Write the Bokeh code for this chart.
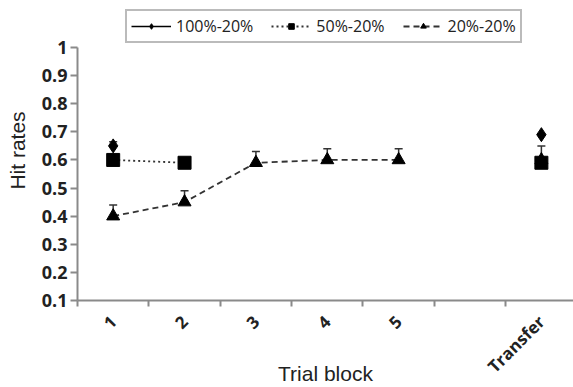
import math
from bokeh.plotting import figure
from bokeh.models import (Range1d, FixedTicker, Legend, LegendItem, Whisker,
                          ColumnDataSource, TeeHead)
from bokeh.embed import file_html
from bokeh.resources import INLINE

nan = float("nan")

blocks = ["1", "2", "3", "4", "5", "", "Transfer"]
hit_100_20 = [0.65, nan, nan, nan, nan, nan, 0.69]
err_100_20 = [0.015, nan, nan, nan, nan, nan, nan]
hit_50_20 = [0.60, 0.59, nan, nan, nan, nan, 0.59]
hit_20_20 = [0.40, 0.45, 0.59, 0.60, 0.60, nan, 0.60]
err_20_20 = [0.04, 0.04, 0.04, 0.04, 0.04, nan, 0.05]
y_ticks = [0.1, 0.2, 0.3, 0.4, 0.5, 0.6, 0.7, 0.8, 0.9, 1.0]

xpos = [i + 0.5 for i in range(len(blocks))]
bounds = list(range(len(blocks) + 1))

TXT = "#222222"
AX = "#8a8a8a"

# frame spans y = 0..300 px; 0.1 at 300 px, 1.0 at 47 px
y_top = 1.0 + 0.9 * 47 / 253

p = figure(width=573, height=387, output_backend="svg", toolbar_location=None,
           x_range=Range1d(0, 6.95), y_range=Range1d(0.1, y_top),
           min_border_left=77, min_border_right=0, min_border_top=0,
           min_border_bottom=87)
p.outline_line_color = None
p.xgrid.visible = False
p.ygrid.visible = False
p.background_fill_color = "white"
p.border_fill_color = "white"

# x axis
p.xaxis.ticker = FixedTicker(ticks=xpos, minor_ticks=bounds)
p.xaxis.major_label_overrides = {x: b for x, b in zip(xpos, blocks)}
p.xaxis.major_tick_out = 0
p.xaxis.major_tick_in = 0
p.xaxis.minor_tick_out = 6
p.xaxis.minor_tick_in = 0
p.xaxis.minor_tick_line_color = AX
p.xaxis.minor_tick_line_width = 2
p.xaxis.axis_line_color = AX
p.xaxis.axis_line_width = 2
p.xaxis.major_label_orientation = math.pi / 4
p.xaxis.major_label_text_font = "Open Sans"
p.xaxis.major_label_text_font_style = "bold"
p.xaxis.major_label_text_font_size = "17px"
p.xaxis.major_label_text_color = TXT
p.xaxis.major_label_standoff = 12
p.xaxis.axis_label = "Trial block"
p.xaxis.axis_label_text_font = "Liberation Sans"
p.xaxis.axis_label_text_font_style = "normal"
p.xaxis.axis_label_text_font_size = "21px"
p.xaxis.axis_label_text_color = TXT
p.xaxis.axis_label_standoff = -27

# y axis
p.yaxis.ticker = FixedTicker(ticks=y_ticks)
p.yaxis.bounds = (0.1, 1.0)
p.yaxis.major_label_overrides = {0.1: "0.1", 1.0: "1"}
p.yaxis.minor_tick_line_color = None
p.yaxis.major_tick_out = 7
p.yaxis.major_tick_in = 0
p.yaxis.major_tick_line_color = AX
p.yaxis.major_tick_line_width = 2
p.yaxis.axis_line_color = AX
p.yaxis.axis_line_width = 2
p.yaxis.major_label_text_font = "Open Sans"
p.yaxis.major_label_text_font_style = "bold"
p.yaxis.major_label_text_font_size = "18px"
p.yaxis.major_label_text_color = TXT
p.yaxis.major_label_standoff = 3
p.yaxis.axis_label = "Hit rates"
p.yaxis.axis_label_text_font = "Liberation Sans"
p.yaxis.axis_label_text_font_style = "normal"
p.yaxis.axis_label_text_font_size = "21px"
p.yaxis.axis_label_text_color = TXT
p.yaxis.axis_label_standoff = 10

def upper(vals, errs):
    return [v + e for v, e in zip(vals, errs)]

# error bars
src20 = ColumnDataSource(dict(x=xpos, lo=hit_20_20, hi=upper(hit_20_20, err_20_20)))
src100 = ColumnDataSource(dict(x=xpos, lo=hit_100_20, hi=upper(hit_100_20, err_100_20)))
for src in (src20, src100):
    w = Whisker(source=src, base="x", lower="lo", upper="hi", dimension="height",
                line_color="#333333", line_width=1.5, lower_head=None,
                upper_head=TeeHead(size=8, line_color="#333333", line_width=1.5))
    p.add_layout(w)

# series
l100 = p.line(xpos, hit_100_20, line_color="black", line_width=1.5)
m100 = p.scatter(xpos, hit_100_20, marker="diamond", size=14, color="black")

l20 = p.line(xpos, hit_20_20, line_color="#333333", line_width=1.8, line_dash="6 4")
m20 = p.scatter(xpos, hit_20_20, marker="triangle", size=13, color="black")

l50 = p.line(xpos, hit_50_20, line_color="#333333", line_width=1.8, line_dash="2 3")
m50 = p.scatter(xpos, hit_50_20, marker="square", size=13, color="black")

legend = Legend(items=[
    LegendItem(label="100%-20%", renderers=[l100, m100]),
    LegendItem(label="50%-20%", renderers=[l50, m50]),
    LegendItem(label="20%-20%", renderers=[l20, m20]),
], location=(48, 257), orientation="horizontal")
legend.border_line_color = "#777777"
legend.border_line_width = 2
legend.background_fill_alpha = 1
legend.label_text_font = "Open Sans"
legend.label_text_font_style = "normal"
legend.label_text_font_size = "16px"
legend.label_text_color = TXT
legend.glyph_width = 40
legend.glyph_height = 14
legend.label_height = 14
legend.spacing = 18
legend.padding = 4
legend.margin = 0
legend.label_standoff = 5
p.add_layout(legend, "center")

open("out.html", "w").write(file_html(p, INLINE))
